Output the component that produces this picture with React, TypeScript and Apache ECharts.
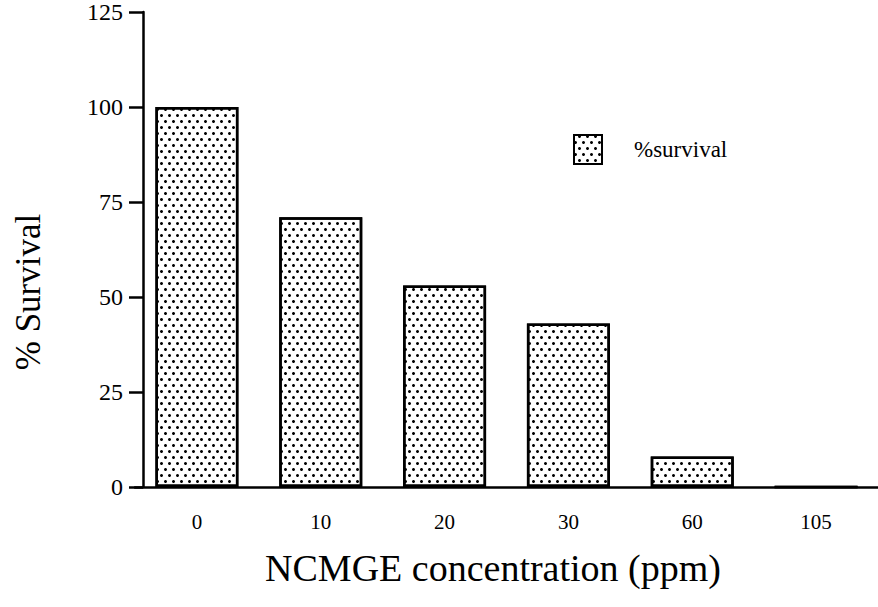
import React, { useEffect, useRef } from "react";
import * as echarts from "echarts";

const categories = ["0", "10", "20", "30", "60", "105"];
const survival = [100, 71, 53, 43, 8, 0];
const yTicks = [0, 25, 50, 75, 100, 125];
const seriesName = "%survival";
const xTitle = "NCMGE concentration (ppm)";
const yTitle = "% Survival";

const FONT = "'Liberation Serif', 'DejaVu Serif', serif";

export default function App() {
  const ref = useRef<HTMLDivElement>(null);
  useEffect(() => {
    document.body.style.margin = "0";
    if (!ref.current) return;
    const chart = echarts.init(ref.current, undefined, { renderer: "svg" });
    const decal = {
      symbol: "circle",
      symbolSize: 1,
      color: "#000",
      backgroundColor: "#fff",
      dashArrayX: [
        [2.5, 4.5],
        [0, 3.5, 2.5, 1],
      ],
      dashArrayY: [2.5, 3],
    };
    chart.setOption({
      animation: false,
      backgroundColor: "#fff",
      grid: { left: 135, right: 0, top: 11, bottom: 120 },
      legend: {
        left: 573,
        top: 134,
        padding: 0,
        itemWidth: 28,
        itemHeight: 29,
        icon: "rect",
        data: [seriesName],
        textStyle: { fontFamily: FONT, fontSize: 23, color: "#000", padding: [0, 0, 0, 27] },
      },
      xAxis: {
        type: "category",
        data: categories,
        axisLine: { lineStyle: { color: "#000", width: 2.5 } },
        axisTick: { alignWithLabel: true, length: 13, lineStyle: { color: "#000", width: 2.5 } },
        axisLabel: { color: "#000", fontFamily: FONT, fontSize: 21, margin: 24 },
        name: xTitle,
        nameLocation: "middle",
        nameGap: 62,
        nameTextStyle: { fontFamily: FONT, fontSize: 38, color: "#000", padding: [0, 27, 0, 0] },
      },
      yAxis: {
        type: "value",
        min: 0,
        max: 125,
        interval: 25,
        offset: -8,
        splitLine: { show: false },
        axisLine: { show: true, lineStyle: { color: "#000", width: 2.5 } },
        axisTick: { show: true, length: 14, lineStyle: { color: "#000", width: 2.5 } },
        axisLabel: {
          color: "#000",
          fontFamily: FONT,
          fontSize: 24,
          margin: 20,
          formatter: (v: number) => (yTicks.includes(v) ? String(v) : ""),
        },
      },
      graphic: [
        {
          type: "text",
          x: 28,
          y: 292,
          rotation: Math.PI / 2,
          style: {
            text: yTitle,
            fontFamily: FONT,
            fontSize: 35,
            fill: "#000",
            textAlign: "center",
            textVerticalAlign: "middle",
          },
        },
      ],
      series: [
        {
          name: seriesName,
          type: "bar",
          data: survival,
          barWidth: 83,
          itemStyle: { color: "#fff", borderColor: "#000", borderWidth: 2.5, decal },
        },
      ],
    });
    return () => chart.dispose();
  }, []);
  return <div ref={ref} style={{ width: 878, height: 607 }} />;
}
